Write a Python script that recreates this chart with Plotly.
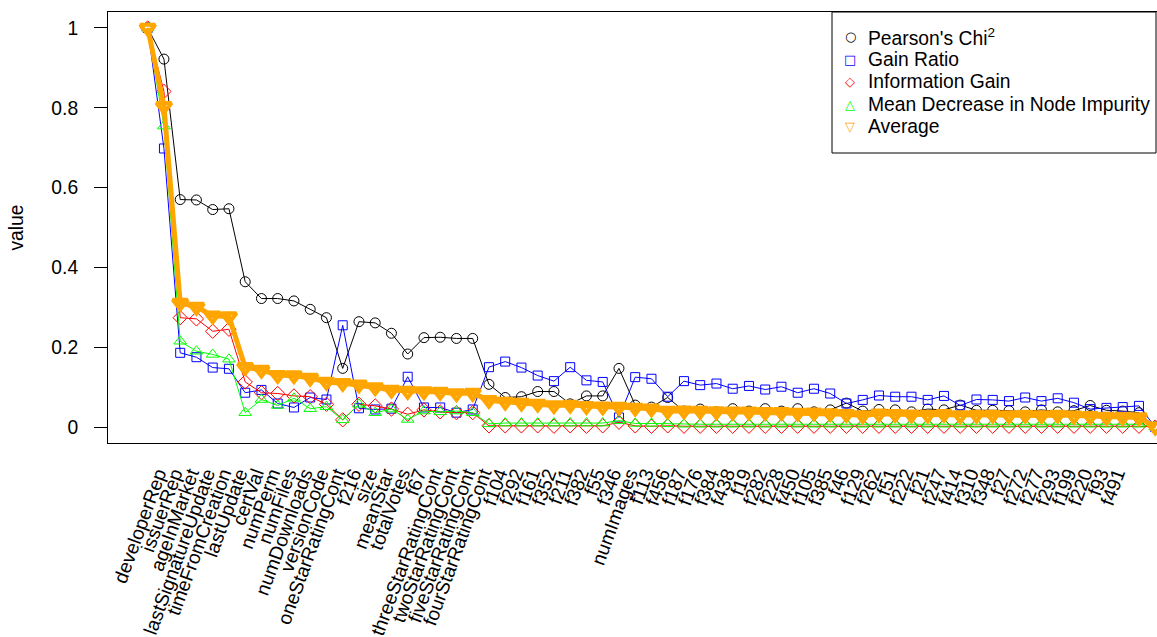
import plotly.graph_objects as go

features = ["developerRep", "issuerRep", "ageInMarket", "lastSignatureUpdate", "timeFromCreation",
            "lastUpdate", "certVal", "numPerm", "numFiles", "numDownloads", "versionCode",
            "oneStarRatingCont", "f216", "size", "meanStar", "totalVotes", "f67",
            "threeStarRatingCont", "twoStarRatingCont", "fiveStarRatingCont", "fourStarRatingCont",
            "f104", "f292", "f161", "f352", "f211", "f382", "f55", "f346", "numImages", "f113",
            "f456", "f187", "f176", "f384", "f438", "f19", "f282", "f228", "f450", "f105", "f385",
            "f46", "f129", "f262", "f51", "f222", "f21", "f247", "f414", "f310", "f348", "f27",
            "f272", "f277", "f293", "f199", "f220", "f93", "f491", "", "", ""]

chi = [1.0, 0.922, 0.570, 0.569, 0.545, 0.547, 0.364, 0.322, 0.322, 0.316, 0.295, 0.274, 0.147,
       0.264, 0.261, 0.235, 0.183, 0.224, 0.225, 0.222, 0.222, 0.107, 0.074, 0.076, 0.089, 0.089,
       0.058, 0.078, 0.078, 0.147, 0.055, 0.050, 0.074, 0.040, 0.045, 0.038, 0.046, 0.040, 0.046,
       0.040, 0.046, 0.038, 0.043, 0.060, 0.040, 0.044, 0.043, 0.038, 0.045, 0.043, 0.055, 0.042,
       0.042, 0.041, 0.038, 0.043, 0.038, 0.041, 0.054, 0.042, 0.040, 0.036, 0.0]

gain_ratio = [1.0, 0.698, 0.186, 0.175, 0.149, 0.146, 0.086, 0.093, 0.059, 0.049, 0.074, 0.069,
              0.255, 0.047, 0.044, 0.046, 0.126, 0.049, 0.049, 0.036, 0.044, 0.150, 0.164, 0.149,
              0.129, 0.115, 0.150, 0.117, 0.113, 0.024, 0.125, 0.121, 0.076, 0.115, 0.105, 0.109,
              0.096, 0.103, 0.094, 0.101, 0.086, 0.096, 0.084, 0.059, 0.068, 0.079, 0.076, 0.076,
              0.068, 0.078, 0.054, 0.069, 0.068, 0.065, 0.074, 0.065, 0.072, 0.061, 0.045, 0.048,
              0.050, 0.053, 0.0]

info_gain = [1.0, 0.841, 0.274, 0.271, 0.240, 0.245, 0.113, 0.086, 0.084, 0.078, 0.076, 0.057,
             0.018, 0.057, 0.053, 0.045, 0.032, 0.043, 0.038, 0.036, 0.036, 0.003, 0.003, 0.003,
             0.003, 0.002, 0.003, 0.002, 0.003, 0.012, 0.003, 0.002, 0.003, 0.002, 0.002, 0.002,
             0.002, 0.002, 0.002, 0.002, 0.002, 0.002, 0.002, 0.002, 0.002, 0.002, 0.002, 0.002,
             0.002, 0.002, 0.002, 0.002, 0.002, 0.002, 0.002, 0.002, 0.002, 0.002, 0.002, 0.002,
             0.002, 0.002, 0.0]

mdi = [1.0, 0.754, 0.215, 0.190, 0.182, 0.170, 0.036, 0.069, 0.054, 0.072, 0.046, 0.051, 0.018,
       0.057, 0.036, 0.045, 0.019, 0.040, 0.038, 0.040, 0.036, 0.008, 0.010, 0.010, 0.010, 0.010,
       0.010, 0.010, 0.010, 0.016, 0.009, 0.009, 0.008, 0.007, 0.007, 0.007, 0.007, 0.007, 0.007,
       0.007, 0.007, 0.007, 0.007, 0.007, 0.007, 0.007, 0.007, 0.007, 0.007, 0.007, 0.007, 0.007,
       0.007, 0.007, 0.007, 0.007, 0.007, 0.007, 0.007, 0.007, 0.007, 0.007, 0.0]

average = [1.0, 0.804, 0.311, 0.301, 0.279, 0.277, 0.150, 0.143, 0.130, 0.129, 0.123, 0.113,
           0.110, 0.106, 0.099, 0.093, 0.090, 0.089, 0.088, 0.084, 0.085, 0.067, 0.063, 0.060,
           0.058, 0.054, 0.055, 0.052, 0.051, 0.050, 0.048, 0.046, 0.040, 0.041, 0.040, 0.039,
           0.038, 0.038, 0.037, 0.037, 0.035, 0.036, 0.034, 0.032, 0.029, 0.033, 0.032, 0.031,
           0.030, 0.032, 0.029, 0.030, 0.030, 0.029, 0.030, 0.029, 0.030, 0.028, 0.027, 0.025,
           0.025, 0.024, 0.0]

series_names = ["Pearson's Chi<sup>2</sup>", "Gain Ratio", "Information Gain",
                "Mean Decrease in Node Impurity", "Average"]
legend_glyphs = ["○", "□", "◇", "△", "▽"]

x = list(range(1, len(chi) + 1))
FONT = "Liberation Sans, Arial, Helvetica, sans-serif"
FS = 19.3

fig = go.Figure()

styles = [
    (chi, "black", "circle-open", 10, 1, 1),
    (gain_ratio, "#0000FF", "square-open", 9, 1, 1),
    (info_gain, "#FF0000", "diamond-open", 11, 1, 1),
    (mdi, "#00FF00", "triangle-up-open", 11, 1, 1),
    (average, "#FFA500", "triangle-down-open", 13, 4, 5),
]

for (vals, col, sym, sz, mlw, lw), name in zip(styles, series_names):
    fig.add_trace(go.Scatter(
        x=x, y=vals, mode="lines+markers", name=name, showlegend=False,
        line=dict(color=col, width=lw),
        marker=dict(symbol=sym, size=sz, color=col, line=dict(color=col, width=mlw)),
    ))

# Legend box (R-style: symbols only, tight row spacing)
W, H = 1157, 637
L, R, T, B = 108, 0, 12, 194
pw, ph = W - L - R, H - T - B
def px_x(p):
    return (p - L) / pw
def px_y(p):
    return (H - B - p) / ph

fig.add_shape(type="rect", xref="paper", yref="paper",
              x0=px_x(832), x1=px_x(1156), y0=px_y(153), y1=px_y(12),
              line=dict(color="black", width=1), fillcolor="white", layer="above")
row_y = [37, 59.5, 82, 104.5, 127]
for (vals, col, sym, sz, mlw, lw), name, g, ry in zip(styles, series_names, legend_glyphs, row_y):
    fig.add_annotation(xref="paper", yref="paper", x=px_x(850), y=px_y(ry),
                       text=g, showarrow=False, xanchor="center", yanchor="middle",
                       font=dict(family="DejaVu Sans", size=13, color=col))
    fig.add_annotation(xref="paper", yref="paper", x=px_x(866), y=px_y(ry),
                       text=name, showarrow=False, xanchor="left", yanchor="middle",
                       font=dict(family=FONT, size=FS, color="black"))

fig.update_layout(
    width=W, height=H,
    margin=dict(l=L, r=R, t=T, b=B, autoexpand=False),
    paper_bgcolor="white", plot_bgcolor="white",
    font=dict(family=FONT, size=FS, color="black"),
    showlegend=False,
)

fig.update_xaxes(
    range=[-1.443, 63.11],
    tickmode="array", tickvals=x, ticktext=features,
    tickangle=-70, ticks="", showgrid=False, zeroline=False,
    showline=True, mirror=True, linecolor="black", linewidth=1,
    ticklabelstandoff=11, ticklabelshift=10, automargin=False,
    tickfont=dict(family=FONT, size=FS, color="black"),
)

fig.update_yaxes(
    range=[-0.04, 1.04],
    tickmode="array", tickvals=[0, 0.2, 0.4, 0.6, 0.8, 1],
    ticktext=["0", "0.2", "0.4", "0.6", "0.8", "1"],
    ticks="outside", ticklen=13, tickcolor="black", tickwidth=1,
    showgrid=False, zeroline=False,
    showline=True, mirror=False, linecolor="black", linewidth=1,
    ticklabelstandoff=12,
    title=dict(text="value", standoff=22, font=dict(family=FONT, size=FS, color="black")),
    automargin=False,
    tickfont=dict(family=FONT, size=FS, color="black"),
)

fig.write_html("out.html", config={"displayModeBar": False},
               post_script="document.body.style.margin='0';")
